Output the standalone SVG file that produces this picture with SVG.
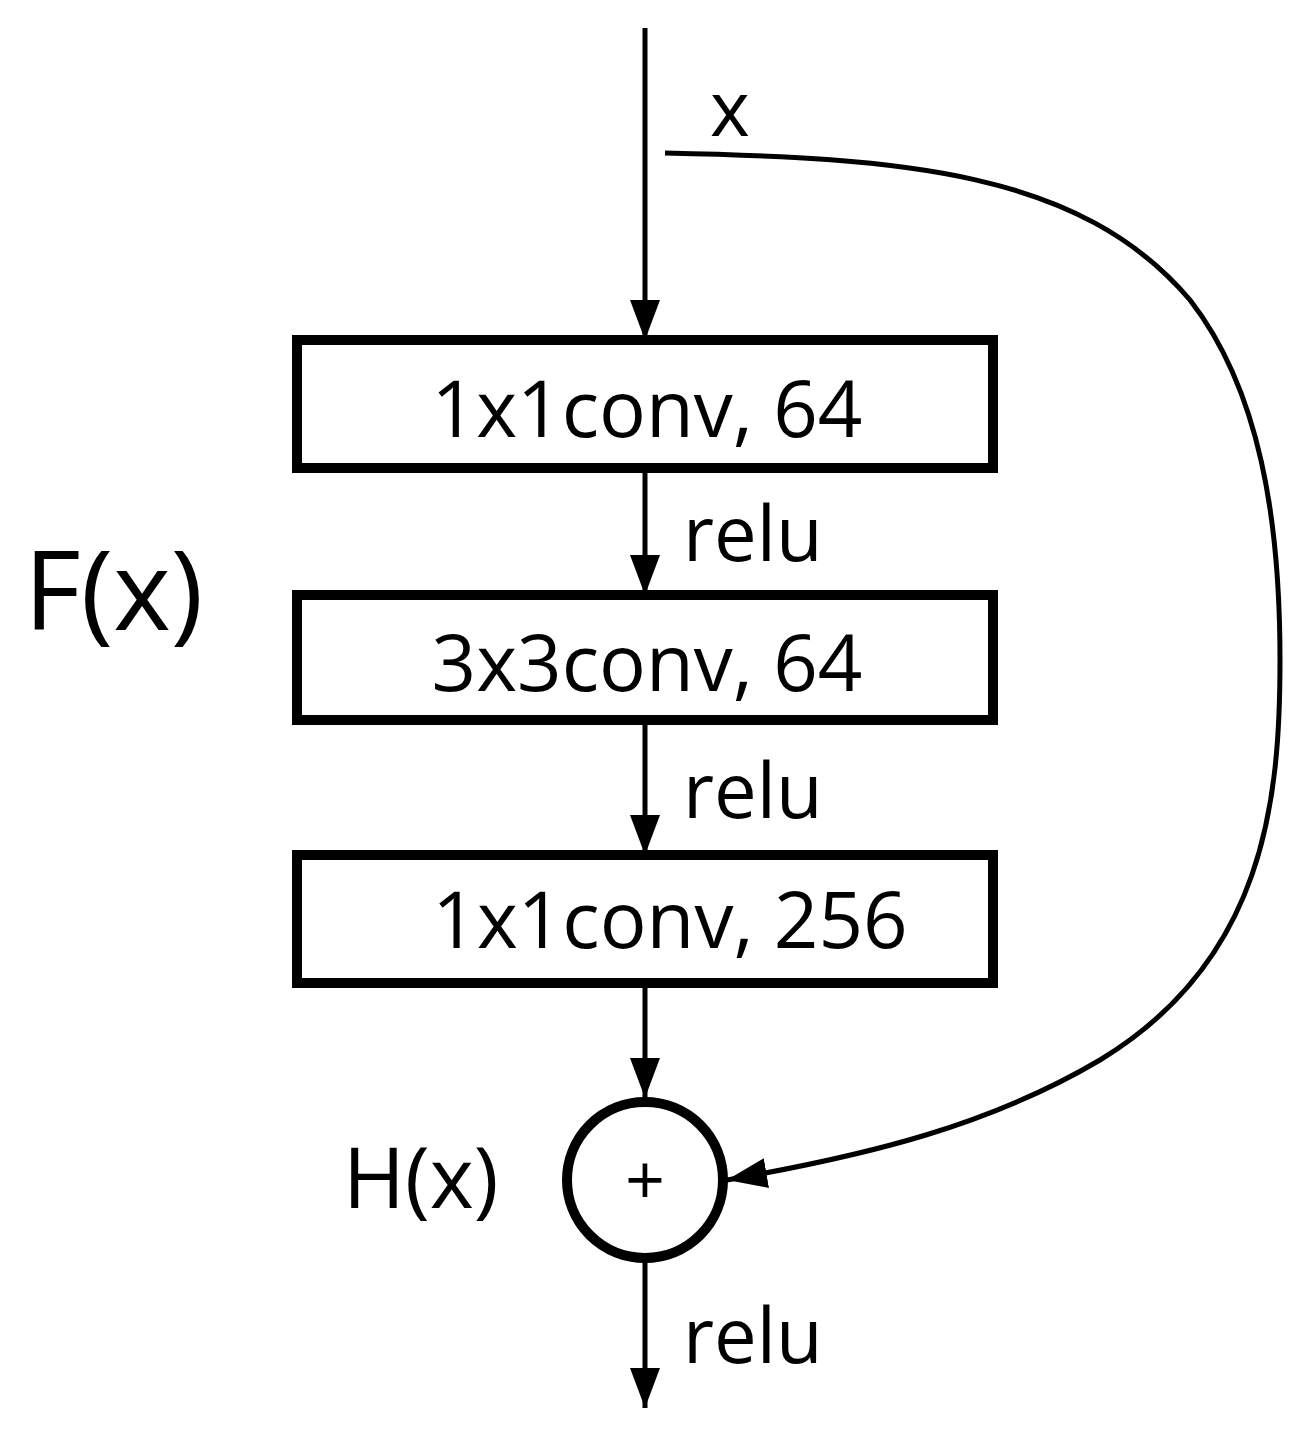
<svg xmlns="http://www.w3.org/2000/svg" width="1311" height="1437" viewBox="0 0 1311 1437">
<style>
.box{fill:#fff;stroke:#000;stroke-width:10}
.ln{fill:none;stroke:#000;stroke-width:5}
text{font-family:"Open Sans","Liberation Sans",sans-serif;fill:#000}
.t{font-size:78px;text-anchor:middle}
.r{font-size:76px}
</style>
<defs>
<marker id="ah" viewBox="0 0 10 10" refX="10" refY="5" markerWidth="7.5" markerHeight="7.5" markerUnits="userSpaceOnUse" orient="auto" style="overflow:visible">
<path d="M0,0 L10,5 L0,10 z" fill="#000" transform="scale(1)"/>
</marker>
<marker id="a" viewBox="0 0 40 30" refX="40" refY="15" markerWidth="40" markerHeight="30" markerUnits="userSpaceOnUse" orient="auto">
<path d="M0,0 L40,15 L0,30 z" fill="#000"/>
</marker>
</defs>
<g id="connectors">
<line class="ln" x1="645" y1="28" x2="645" y2="340" marker-end="url(#a)"/>
<line class="ln" x1="645" y1="468" x2="645" y2="595" marker-end="url(#a)"/>
<line class="ln" x1="645" y1="720" x2="645" y2="855" marker-end="url(#a)"/>
<line class="ln" x1="645" y1="983" x2="645" y2="1098" marker-end="url(#a)"/>
<line class="ln" x1="645" y1="1262" x2="645" y2="1408" marker-end="url(#a)"/>
<path class="ln" d="M665,153 C900,158 1080,170 1190,300 C1260,390 1280,520 1280,660 C1280,800 1265,960 1100,1060 C990,1125 870,1155 727,1180" marker-end="url(#a)"/>
</g>
<g id="n1"><rect class="box" x="297" y="340" width="696" height="128"/><text class="t" x="647" y="437">1x1conv, 64</text></g>
<g id="n2"><rect class="box" x="297" y="595" width="696" height="125"/><text class="t" x="647" y="691">3x3conv, 64</text></g>
<g id="n3"><rect class="box" x="297" y="855" width="696" height="128"/><text class="t" x="670" y="948">1x1conv, 256</text></g>
<g id="sum"><circle cx="645" cy="1180" r="78" fill="#fff" stroke="#000" stroke-width="10"/><text x="645" y="1205" font-size="70" text-anchor="middle">+</text></g>
<g id="labels">
<text class="r" x="710" y="136">x</text>
<text class="r" x="683" y="561">relu</text>
<text class="r" x="683" y="818">relu</text>
<text class="r" x="683" y="1363">relu</text>
<text x="24" y="630" font-size="110">F(x)</text>
<text x="343" y="1208" font-size="84">H(x)</text>
</g>
</svg>
